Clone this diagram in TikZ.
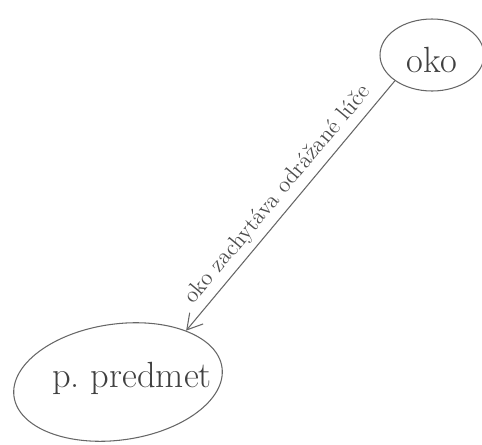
\documentclass[tikz,border=0pt]{standalone}
\usepackage{fontspec}
\usepackage{tikz}
\usetikzlibrary{arrows.meta,shapes.geometric}

\begin{document}
\begin{tikzpicture}[
  x=0.02cm, y=-0.02cm,
  ink/.style={draw=black!60, line width=0.6pt},
  blob/.style={ink, ellipse, inner sep=0pt, text=black!75},
  fl/.style={ink, -{Straight Barb[length=3mm, width=3.5mm]}},
]
\useasboundingbox (0,0) rectangle (482,444);
\node[blob, minimum width=104*0.02cm, minimum height=72*0.02cm] (oko) at (432,55) {};
\node[font=\huge, text=black!75] at (432,60) {oko};
\node[blob, minimum width=210*0.02cm, minimum height=116*0.02cm, rotate=8] (predmet) at (118,382) {};
\node[font=\huge, text=black!75] (lbl) at (132,378) {p.\ predmet};
\draw[fl] (oko.south west) -- (predmet.north east)
  node[midway, sloped, above, font=\fontsize{13}{15}\selectfont, text=black!70] {oko zachytáva odrážané lúče};
\end{tikzpicture}
\end{document}
